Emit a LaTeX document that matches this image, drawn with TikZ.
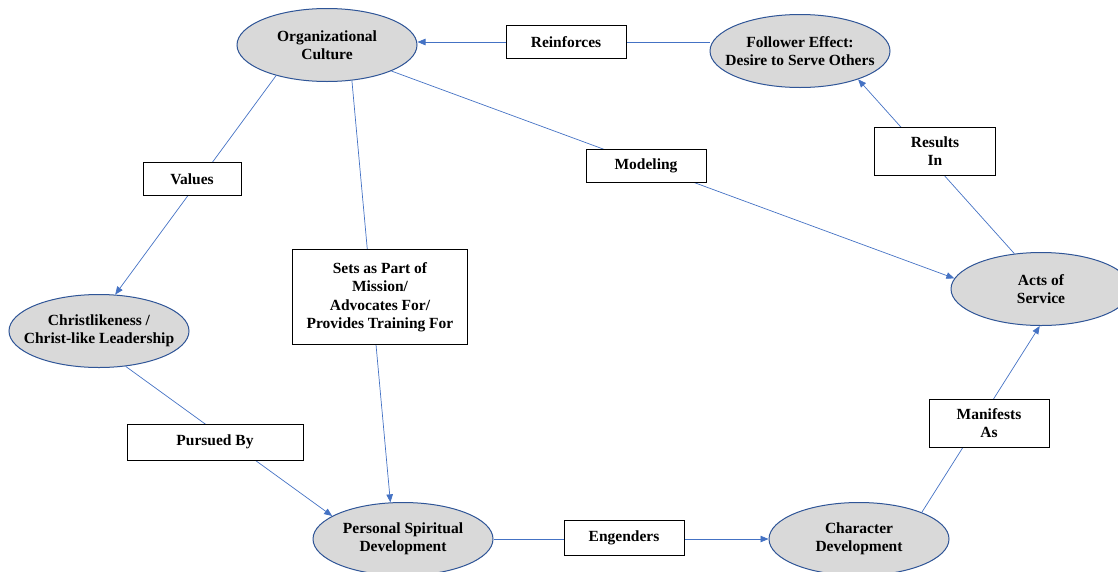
\documentclass[tikz,border=0pt]{standalone}
\usepackage{fontspec}
\setmainfont{Liberation Serif}
\usetikzlibrary{shapes.geometric,arrows.meta}

\definecolor{linkblue}{HTML}{4472C4}
\definecolor{rimblue}{HTML}{2F5597}
\definecolor{bubblegray}{HTML}{D9D9D9}

\tikzset{
  bubble/.style={ellipse, draw=rimblue, line width=1pt, fill=bubblegray,
    minimum width=180pt, minimum height=73pt, inner xsep=-15pt, inner ysep=0pt,
    align=center, font=\fontsize{15.5}{18}\selectfont\bfseries},
  tag/.style={draw=black, line width=0.9pt, fill=white, inner sep=0pt,
    align=center, minimum width=120pt, minimum height=33pt,
    font=\fontsize{15.5}{18.5}\selectfont\bfseries},
  link/.style={draw=linkblue, line width=0.7pt,
    -{Triangle[length=8pt,width=6.5pt]}}
}

\begin{document}
\begin{tikzpicture}[x=1pt,y=-1pt]

\useasboundingbox (0,0) rectangle (1118,571);
\clip (0,0) rectangle (1118,571);

\node[bubble] (org) at (327,45) {Organizational\\Culture};
\node[bubble] (fol) at (800,51) {Follower Effect:\\Desire to Serve Others};
\node[bubble] (chr) at (99,331) {Christlikeness /\\Christ-like Leadership};
\node[bubble] (psd) at (403,539) {Personal Spiritual\\Development};
\node[bubble] (cd) at (859,539) {Character\\Development};
\node[bubble] (aos) at (1041,289) {Acts of\\Service};

\draw[link] (fol.west |- 0,42) -- (org.east |- 0,42);
\draw[link] (org.211) -- (chr.66);
\draw[link] (org.305) -- (psd.109);
\draw[link] (org.338) -- (aos.173);
\draw[link] (chr.307) -- (psd.162);
\draw[link] (psd.east) -- (cd.west);
\draw[link] (cd.23) -- (aos.268);
\draw[link] (aos.127) -- (fol.334);

\node[tag] (rein) at (566,42) {Reinforces};
\node[tag, minimum width=98pt] (val) at (192,179) {Values};
\node[tag] (mod) at (646,166) {Modeling};
\node[tag, minimum width=121pt, minimum height=48pt] (res) at (935,151) {Results\\In};
\node[tag, minimum width=175pt, minimum height=95pt] (sets) at (380,297)
  {Sets as Part of\\Mission/\\Advocates For/\\Provides Training For};
\node[tag, minimum width=176pt, minimum height=36pt] (pur) at (215,442) {Pursued By};
\node[tag, minimum height=35pt] (eng) at (624,538) {Engenders};
\node[tag, minimum height=48pt] (man) at (989,423) {Manifests\\As};

\end{tikzpicture}
\end{document}
